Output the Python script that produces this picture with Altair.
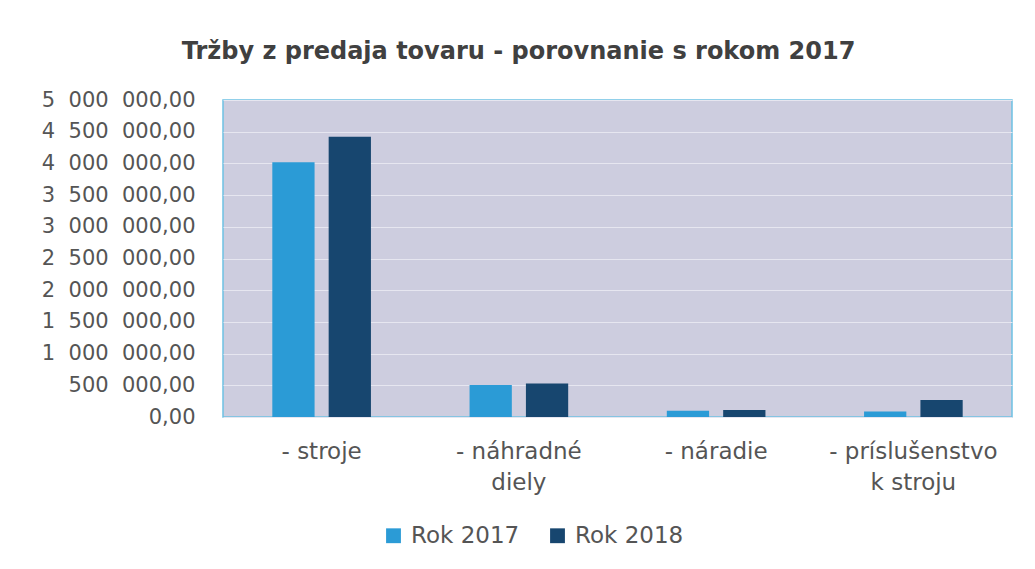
import altair as alt
import pandas as pd

categories = ["- stroje", "- náhradné\ndiely", "- náradie", "- príslušenstvo\nk stroju"]
series = ["Rok 2017", "Rok 2018"]
values_2017 = [4020000, 505000, 100000, 85000]
values_2018 = [4420000, 530000, 110000, 270000]
y_ticks = [0, 500000, 1000000, 1500000, 2000000, 2500000, 3000000,
           3500000, 4000000, 4500000, 5000000]
colors = ["#2b9bd6", "#17466f"]

rows = []
for c, a, b in zip(categories, values_2017, values_2018):
    rows.append({"kategoria": c, "rok": series[0], "hodnota": a})
    rows.append({"kategoria": c, "rok": series[1], "hodnota": b})
df = pd.DataFrame(rows)

FONT = "DejaVu Sans"
ylabel = "replace(replace(format(datum.value, ',.2f'), regexp(',', 'g'), '\u2007'), '.', ',')"

chart = alt.Chart(df).mark_bar().encode(
    x=alt.X("kategoria:N", sort=categories,
            scale=alt.Scale(paddingInner=0.5, paddingOuter=0.25),
            axis=alt.Axis(title=None, labelAngle=0, ticks=False, domain=False,
                          labelExpr="split(datum.label, '\\n')",
                          labelFont=FONT, labelFontSize=23, labelColor="#555555",
                          labelLineHeight=31, labelPadding=23)),
    xOffset=alt.XOffset("rok:N", sort=series,
                        scale=alt.Scale(paddingInner=0.25, paddingOuter=0)),
    y=alt.Y("hodnota:Q", scale=alt.Scale(domain=[0, 5000000], nice=False),
            axis=alt.Axis(title=None, values=y_ticks, ticks=False, domain=False,
                          labelExpr=ylabel, labelFont=FONT, labelFontSize=21,
                          labelColor="#555555", labelPadding=28,
                          gridColor="#e6e6f0", gridWidth=1.2)),
    color=alt.Color("rok:N", sort=series,
                    scale=alt.Scale(domain=series, range=colors),
                    legend=alt.Legend(title=None, orient="none", direction="horizontal",
                                      legendX=159, legendY=424, symbolType="square",
                                      symbolSize=220, symbolStrokeWidth=0,
                                      labelFont=FONT, labelFontSize=23,
                                      labelColor="#555555", columnPadding=26,
                                      labelOffset=6, padding=0)),
).properties(
    width=789, height=317, background="white",
    title=alt.TitleParams("Tržby z predaja tovaru - porovnanie s rokom 2017",
                          font=FONT, fontSize=24, fontWeight="bold",
                          color="#404040", anchor="middle", dx=-99, offset=25),
    autosize=alt.AutoSizeParams(type="none"),
    padding={"left": 215, "top": 92, "right": 5, "bottom": 140},
).configure_view(
    fill="#cdcddf", stroke="#6ec1e4", strokeWidth=1.5
)

chart.save("out.html", embed_options={"renderer": "svg", "actions": False})
